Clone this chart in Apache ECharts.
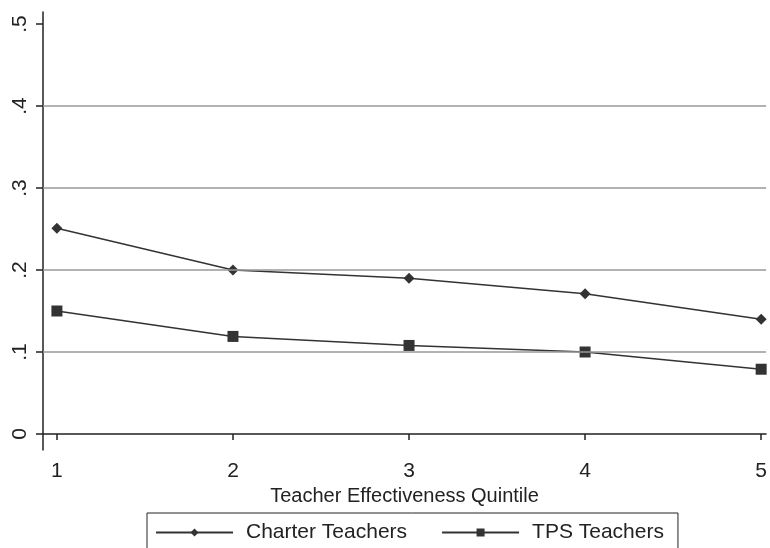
<!DOCTYPE html>
<html><head><meta charset="utf-8">
<script src="https://cdn.jsdelivr.net/npm/echarts@6/dist/echarts.min.js"></script>
<style>html,body{margin:0;padding:0;background:#fff}#c{width:770px;height:548px}</style>
</head><body><div id="c"></div>
<script>
const quintiles = [1, 2, 3, 4, 5];
const charter = [0.251, 0.200, 0.190, 0.171, 0.140];
const tps = [0.150, 0.119, 0.108, 0.100, 0.079];
const yTicks = [0, 0.1, 0.2, 0.3, 0.4, 0.5];
const gridVals = [0.1, 0.2, 0.3, 0.4];
const seriesNames = ['Charter Teachers', 'TPS Teachers'];
const xTitle = 'Teacher Effectiveness Quintile';

const font = 'Liberation Sans, Arial, sans-serif';
const chart = echarts.init(document.getElementById('c'));
chart.setOption({
  animation: false,
  grid: { left: 43, right: 0, top: 12, bottom: 98, containLabel: false },
  xAxis: {
    type: 'value', min: 0.921, max: 5.028,
    axisLine: { lineStyle: { color: '#222', width: 1.5 } },
    axisTick: { customValues: quintiles, length: 6, lineStyle: { color: '#222', width: 1.5 } },
    axisLabel: { customValues: quintiles, color: '#222', fontSize: 21, fontFamily: font, margin: 11 },
    splitLine: { show: false },
    name: xTitle, nameLocation: 'middle', nameGap: 29,
    nameTextStyle: { color: '#222', fontSize: 20, fontFamily: font, verticalAlign: 'top' }
  },
  yAxis: {
    type: 'value', min: -0.0195, max: 0.5146,
    axisLine: { show: true, lineStyle: { color: '#222', width: 1.5 } },
    axisTick: { show: true, customValues: yTicks, length: 7, lineStyle: { color: '#222', width: 1.5 } },
    axisLabel: { customValues: yTicks, rotate: 90, color: '#222', fontSize: 21, fontFamily: font, margin: 12,
      formatter: v => v === 0 ? '0' : ('.' + Math.round(v * 10)) },
    splitLine: { show: false }
  },
  legend: {
    data: seriesNames, top: 513, left: 147,
    borderColor: '#222', borderWidth: 1, padding: [9, 14, 30, 8],
    itemWidth: 77, itemHeight: 10, itemGap: 34,
    textStyle: { color: '#222', fontSize: 21, fontFamily: font, padding: [0, 0, 0, 8] }
  },
  series: [
    {
      name: seriesNames[0], type: 'line',
      data: quintiles.map((q, i) => [q, charter[i]]),
      symbol: 'diamond', symbolSize: 11,
      lineStyle: { color: '#333', width: 1.5 }, itemStyle: { color: '#333' },
      markLine: {
        silent: true, symbol: 'none', label: { show: false },
        lineStyle: { color: '#999', type: 'solid', width: 1.5 },
        data: gridVals.map(v => ({ yAxis: v }))
      }
    },
    {
      name: seriesNames[1], type: 'line',
      data: quintiles.map((q, i) => [q, tps[i]]),
      symbol: 'rect', symbolSize: 11,
      lineStyle: { color: '#333', width: 1.5 }, itemStyle: { color: '#333' }
    }
  ]
});
</script></body></html>
